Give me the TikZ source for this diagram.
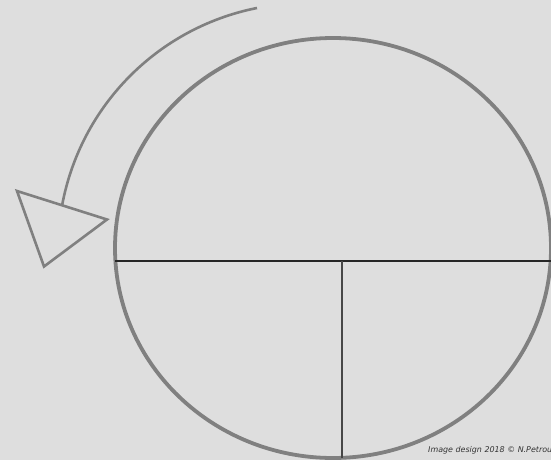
\documentclass[tikz,border=0pt]{standalone}
\usepackage{fontspec}
\usepackage{xcolor}
\usepackage{tikz}
\usetikzlibrary{positioning, calc}
\setsansfont{DejaVu Sans}
\definecolor{paper}{HTML}{DEDEDE}
\definecolor{rimgray}{HTML}{808080}
\definecolor{splitdark}{HTML}{262626}
\definecolor{creditgray}{HTML}{333333}

\begin{document}
\begin{tikzpicture}[x=1pt, y=-1pt,
    rim/.style={draw=rimgray, line width=3.8pt},
    turn/.style={draw=rimgray, line width=2.6pt, line join=miter},
    split/.style={draw=splitdark, line width=1.3pt}]
    \fill[paper] (0,0) rectangle (551,460);
    \useasboundingbox (0,0) rectangle (551,460);
    % wheel
    \coordinate (hub) at (333,248);
    \draw[rim] (hub) ellipse [x radius=218, y radius=210];
    \coordinate (west) at (115,261);
    \coordinate (east) at (551,261);
    \coordinate (cut) at (342,261);
    \coordinate (south) at (342,458);
    \draw[split] (west) -- (east);
    \draw[split, line width=1.6pt, draw=splitdark!85] (cut) -- (south);
    % turning arrow
    \coordinate (tail) at (257,8);
    \coordinate (tipA) at (17,191);
    \coordinate (tipB) at (107,219.5);
    \coordinate (tipC) at (44,266.5);
    \draw[turn] (tail) arc [start angle=-101.2, end angle=-169.6, radius=247];
    \draw[turn] (tipA) -- (tipB) -- (tipC) -- cycle;
    % credit
    \node[anchor=base west, inner sep=0pt, text=creditgray,
          font=\sffamily\itshape\fontsize{7.95}{10}\selectfont] (credit) at (428,452)
      {Image design 2018 \textcopyright{} N.Petrou};
\end{tikzpicture}
\end{document}
